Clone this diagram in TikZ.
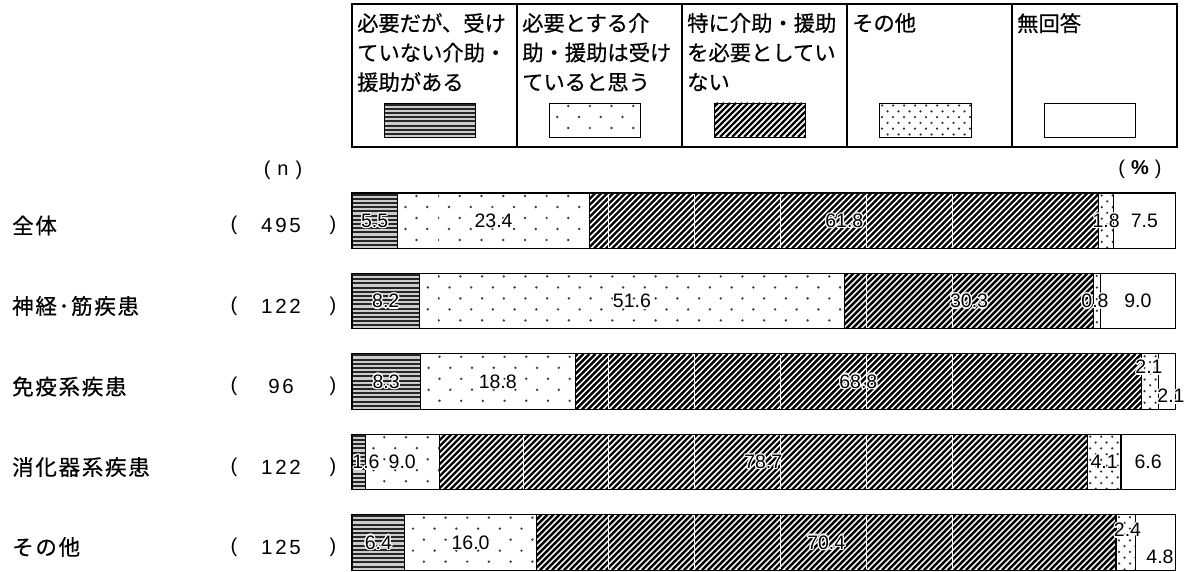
\documentclass[tikz,border=0pt]{standalone}
\usepackage{fontspec}
\setmainfont{Liberation Sans}
\newfontfamily\jp[FakeBold=0.5]{Noto Sans CJK JP}
\newfontfamily\jpw[LetterSpace=8,FakeBold=0.5]{Noto Sans CJK JP}
\newfontfamily\numw[LetterSpace=13]{Liberation Sans}

\newcommand\stripefill[4]{%
  \begin{scope}
    \clip (#1,#2) rectangle (#3,#4);
    \fill[gray!40] (#1,#2) rectangle (#3,#4);
    \foreach \k in {0,...,14}{\draw[line width=2.1pt,black!85] (#1,{#2+1.6+\k*4.2}) -- (#3,{#2+1.6+\k*4.2});}
  \end{scope}}
\newcommand\dotfillA[4]{%
  \begin{scope}
    \clip (#1,#2) rectangle (#3,#4);
    \fill[white] (#1,#2) rectangle (#3,#4);
    \foreach \r in {0,...,5}{\foreach \c in {-1,...,21}{%
      \fill[black!75] ({#1+8.3+mod(\r+1,2)*10.85+\c*21.7},{#2+3+\r*11}) circle (1.35pt);}}
  \end{scope}}
\newcommand\dotfillB[4]{%
  \begin{scope}
    \clip (#1,#2) rectangle (#3,#4);
    \fill[white] (#1,#2) rectangle (#3,#4);
    \foreach \r in {0,...,10}{\foreach \c in {-1,...,9}{%
      \fill[black!80] ({#1+3+mod(\r,2)*5.5+\c*11},{#2+2.5+\r*5.8}) circle (1.25pt);}}
  \end{scope}}
\newcommand\hatchfill[4]{%
  \begin{scope}
    \clip (#1,#2) rectangle (#3,#4);
    \fill[white] (#1,#2) rectangle (#3,#4);
    \pgfmathtruncatemacro\hA{floor(((#1)-((#4)-(#2)))/6)-1}
    \pgfmathtruncatemacro\hB{ceil((#3)/6)+1}
    \foreach \k in {\hA,...,\hB}{\draw[line width=2.4pt,black] ({\k*6},#4) -- ({\k*6+((#4)-(#2))},#2);}
  \end{scope}}
\newcommand\databar[7]{%
  \pgfmathsetmacro\ya{#2}\pgfmathsetmacro\yb{#2+55.5}\pgfmathsetmacro\ym{#2+27.75}
  \pgfmathsetmacro\xa{352}
  \pgfmathsetmacro\xb{352+(#3)*8.233}
  \pgfmathsetmacro\xc{\xb+(#4)*8.233}
  \pgfmathsetmacro\xd{\xc+(#5)*8.233}
  \pgfmathsetmacro\xe{\xd+(#6)*8.233}
  \pgfmathsetmacro\xf{1175.3}
  \stripefill{\xa}{\ya}{\xb}{\yb}
  \dotfillA{\xb}{\ya}{\xc}{\yb}
  \hatchfill{\xc}{\ya}{\xd}{\yb}
  \dotfillB{\xd}{\ya}{\xe}{\yb}
  \foreach \g in {1,...,7}{\draw[white,line width=0.9pt] ({351.5+\g*85.8},{\ya+0.8}) -- ({351.5+\g*85.8},{\yb-0.8});}
  \draw[seg] (\xa,\ya) rectangle (\xb,\yb);
  \draw[seg] (\xb,\ya) rectangle (\xc,\yb);
  \draw[seg] (\xc,\ya) rectangle (\xd,\yb);
  \draw[seg] (\xd,\ya) rectangle (\xe,\yb);
  \draw[seg] (\xe,\ya) rectangle (\xf,\yb);
  \coordinate (#1-1) at ({(\xa+\xb)/2},\ym);
  \coordinate (#1-2) at ({(\xb+\xc)/2},\ym);
  \coordinate (#1-3) at ({(\xc+\xd)/2},\ym);
  \coordinate (#1-4) at ({(\xd+\xe)/2},\ym);
  \coordinate (#1-5) at ({(\xe+\xf)/2},\ym);
}
% value label with a white halo
\newcommand\vlab[3]{%
  \foreach \dx/\dy in {1.3/0,-1.3/0,0/1.3,0/-1.3,0.95/0.95,-0.95/0.95,0.95/-0.95,-0.95/-0.95}{%
    \node[val,text=white] at ([shift={(\dx,\dy)}]#2) {#3};}
  \node[val] (#1) at (#2) {#3};}

\begin{document}
\begin{tikzpicture}[x=1pt,y=-1pt,
  seg/.style={line width=1.1pt,black},
  val/.style={inner sep=0,font=\fontsize{19.5}{22}\selectfont},
  lgtext/.style={anchor=north west,inner sep=0,align=left,font=\jp\fontsize{21.3}{29.5}\selectfont},
  rowlab/.style={anchor=west,inner sep=0,font=\jpw\fontsize{21.5}{24}\selectfont},
  nnum/.style={inner sep=0,font=\numw\fontsize{20.5}{24}\selectfont},
  par/.style={inner sep=0,font=\fontsize{20}{24}\selectfont},
  swatch/.style={line width=0.8pt,black}]
\useasboundingbox (0,0) rectangle (1188,572);
\fill[white] (0,0) rectangle (1188,572);

% legend table
\draw[line width=2pt] (352,4) rectangle (1177,147);
\foreach \x in {517,682,847,1012} \draw[line width=2pt] (\x,4) -- (\x,147);
\node[lgtext] (lg1) at (357,13) {必要だが、受け\\ていない介助・\\援助がある};
\node[lgtext] (lg2) at (522,13) {必要とする介\\助・援助は受け\\ていると思う};
\node[lgtext] (lg3) at (687,13) {特に介助・援助\\を必要としてい\\ない};
\node[lgtext] (lg4) at (852,13) {その他};
\node[lgtext] (lg5) at (1017,13) {無回答};
\stripefill{384}{103}{475}{137}\draw[swatch] (384,103) rectangle (475,137);
\dotfillA{549}{103}{640}{137}\draw[swatch] (549,103) rectangle (640,137);
\hatchfill{714}{103}{805}{137}\draw[swatch] (714,103) rectangle (805,137);
\dotfillB{879}{103}{971}{137}\draw[swatch] (879,103) rectangle (971,137);
\draw[swatch] (1044,103) rectangle (1135,137);

% headers
\node[par] (nhead) at (283,170) {(\hspace{7pt}n\hspace{7pt})};
\node[par] (phead) at (1140,169) {(\hspace{6pt}\textbf{\%}\hspace{6pt})};

% bars
\databar{r1}{193}{5.5}{23.4}{61.8}{1.8}{7.5}
\databar{r2}{273.4}{8.2}{51.6}{30.3}{0.8}{9.0}
\databar{r3}{353.8}{8.3}{18.8}{68.8}{2.1}{2.1}
\databar{r4}{434.2}{1.6}{9.0}{78.7}{4.1}{6.6}
\databar{r5}{514.6}{6.4}{16.0}{70.4}{2.4}{4.8}

% row labels
\foreach \nm/\lab/\num/\yy in {a/全体/495/225.5, b/神経･筋疾患/122/306, c/免疫系疾患/96/386.5, d/消化器系疾患/122/467, e/その他/125/547}{
  \node[rowlab] (lab\nm) at (12,\yy) {\lab};
  \node[par] (lp\nm) at (234,\yy) {(};
  \node[nnum] (n\nm) at (281,\yy) {\num};
  \node[par] (rp\nm) at (333,\yy) {)};
}

% value labels
\vlab{v11}{r1-1}{5.5}
\vlab{v12}{r1-2}{23.4}
\vlab{v13}{r1-3}{61.8}
\vlab{v14}{r1-4}{1.8}
\vlab{v15}{r1-5}{7.5}
\vlab{v21}{r2-1}{8.2}
\vlab{v22}{r2-2}{51.6}
\vlab{v23}{r2-3}{30.3}
\vlab{v24}{1095,301.2}{0.8}
\vlab{v25}{r2-5}{9.0}
\vlab{v31}{r3-1}{8.3}
\vlab{v32}{r3-2}{18.8}
\vlab{v33}{r3-3}{68.8}
\vlab{v34}{1149,367}{2.1}
\vlab{v35}{1171,396}{2.1}
\vlab{v41}{366,462}{1.6}
\vlab{v42}{r4-2}{9.0}
\vlab{v43}{r4-3}{78.7}
\vlab{v44}{r4-4}{4.1}
\vlab{v45}{r4-5}{6.6}
\vlab{v51}{r5-1}{6.4}
\vlab{v52}{r5-2}{16.0}
\vlab{v53}{r5-3}{70.4}
\vlab{v54}{1127.5,530}{2.4}
\vlab{v55}{1160,557}{4.8}
\end{tikzpicture}
\end{document}
